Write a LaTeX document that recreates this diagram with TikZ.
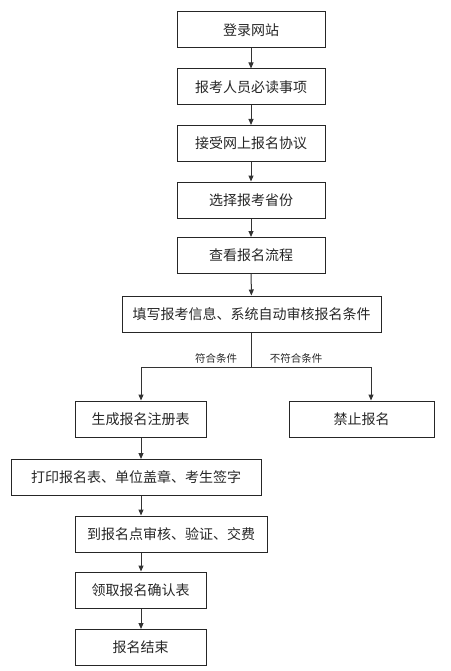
\documentclass[tikz,border=0pt]{standalone}
\usepackage{fontspec}
\newfontfamily\cjk{Noto Sans CJK SC}
\usetikzlibrary{arrows.meta}
\begin{document}
\begin{tikzpicture}[x=1pt,y=-1pt,
  stepbox/.style={draw=black!85,line width=1pt,rectangle,inner sep=0pt,minimum height=36pt,font=\cjk\fontsize{14}{16}\selectfont,text=black!85},
  conn/.style={draw=black!80,line width=1pt,-{Triangle[length=6pt,width=5pt]}},
  lbl/.style={font=\cjk\fontsize{10.5}{12}\selectfont,text=black!85,inner sep=0pt}]
\useasboundingbox (0,0) rectangle (450,671);
\node[stepbox,minimum width=148pt] (b1) at (251,30) {登录网站};
\node[stepbox,minimum width=148pt] (b2) at (251,87) {报考人员必读事项};
\node[stepbox,minimum width=148pt] (b3) at (251,143.5) {接受网上报名协议};
\node[stepbox,minimum width=148pt] (b4) at (251,200) {选择报考省份};
\node[stepbox,minimum width=148pt] (b5) at (251,255.5) {查看报名流程};
\node[stepbox,minimum width=259pt] (b6) at (251.5,314) {填写报考信息、系统自动审核报名条件};
\node[stepbox,minimum width=131pt] (b7) at (140.5,419) {生成报名注册表};
\node[stepbox,minimum width=145pt] (b8) at (361.5,419) {禁止报名};
\node[stepbox,minimum width=250pt] (b9) at (136,477.5) {打印报名表、单位盖章、考生签字};
\node[stepbox,minimum width=192pt] (b10) at (171,534) {到报名点审核、验证、交费};
\node[stepbox,minimum width=131pt] (b11) at (140.5,590) {领取报名确认表};
\node[stepbox,minimum width=131pt] (b12) at (140.5,647.5) {报名结束};
\coordinate (split) at (251.5,367);
\coordinate (lx) at (141,367);
\coordinate (rx) at (371,367);
\node[lbl] (yes) at (216,358) {符合条件};
\node[lbl] (no) at (296,358) {不符合条件};
\draw[conn] (b1) -- (b2);
\draw[conn] (b2) -- (b3);
\draw[conn] (b3) -- (b4);
\draw[conn] (b4) -- (b5);
\draw[conn] (b5) -- (b6);
\draw[draw=black!80,line width=1pt] (b6.south) -- (split);
\draw[conn] (split) -- (lx) -- (b7.north -| lx);
\draw[conn] (split) -- (rx) -- (b8.north -| rx);
\draw[conn] (b7.south -| lx) -- (b9.north -| lx);
\draw[conn] (b9.south -| lx) -- (b10.north -| lx);
\draw[conn] (b10.south -| lx) -- (b11.north -| lx);
\draw[conn] (b11.south -| lx) -- (b12.north -| lx);
\end{tikzpicture}
\end{document}
